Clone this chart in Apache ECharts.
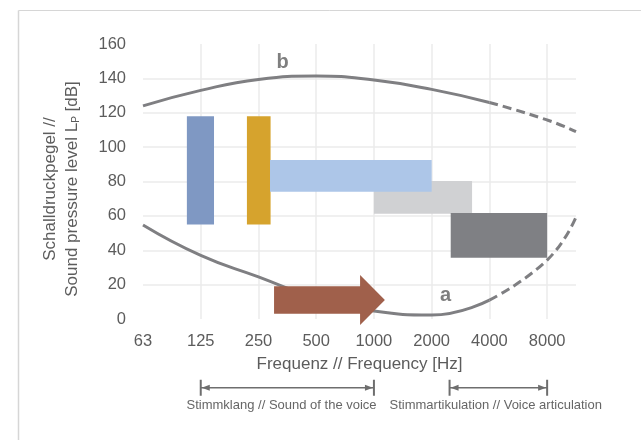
<!DOCTYPE html>
<html><head><meta charset="utf-8">
<script src="https://cdn.jsdelivr.net/npm/echarts@6/dist/echarts.min.js"></script>
<style>html,body{margin:0;padding:0;background:#fff}#c{width:641px;height:440px}</style>
</head><body><div id="c"></div>
<script>
// x positions are octave-band indices (0 = 63 Hz, 1 = 125 Hz, ... 7 = 8000 Hz)
const freqLabels = ['63', '125', '250', '500', '1000', '2000', '4000', '8000'];

// curve b (upper limit) - solid part and dashed extrapolation
const curveBSolid = [[0, 124], [1, 133], [2, 139.4], [3, 141.4], [4, 139], [5, 133.6], [6, 126]];
const curveBDashed = [[6, 126], [7, 115.8], [7.5, 109]];
// curve a (hearing threshold) - solid part and dashed extrapolation
const curveASolid = [[0, 54.7], [1, 37], [2, 24.5], [3, 12], [4, 4.6], [5, 2.3], [6, 11]];
const curveADashed = [[6, 11], [7, 34.3], [7.5, 59.2]];

// range boxes
const boxXStart = [0.76, 1.80, 4.0, 5.33, 2.2];
const boxXEnd   = [1.23, 2.21, 5.7, 7.0, 5.0];
const boxYLow   = [55, 55, 61.3, 35.7, 74];
const boxYHigh  = [118, 118, 80.3, 61.7, 92.5];

// arrow (start, neck, tip) and its body / head value ranges
const arrowX = [2.27, 3.76, 4.19];
const arrowBody = [3, 19];
const arrowHead = [-3.5, 25.6];

// curve labels
const curveLabelText = ['b', 'a'];
const curveLabelX = [2.42, 5.24];
const curveLabelY = [149.5, 13.4];

// range annotations below the axis
const spanStart = [1, 5.31];
const spanEnd = [4, 7];
const spanText = ['Stimmklang // Sound of the voice', 'Stimmartikulation // Voice articulation'];
const spanTextX = [2.4, 6.11];
const spanLineY = -40;
const spanTextY = -50.5;

// ---------- styles ----------
const FONT = "'Liberation Sans', Arial, sans-serif";
const boxColors = ['#7f98c3', '#d6a32d', '#d0d1d3', '#7f8084', '#adc6e8'];
const curveColor = '#7f7f82';
const gridColor = '#ebebeb';
const textColor = '#5c5c5c';

const chart = echarts.init(document.getElementById('c'), null, {renderer: 'canvas'});

const boxData = boxXStart.map((x, i) => [x, boxXEnd[i], boxYLow[i], boxYHigh[i]]);
const labelData = curveLabelText.map((t, i) => [curveLabelX[i], curveLabelY[i], t]);
const spanData = spanStart.map((s, i) => [s, spanEnd[i], spanTextX[i], spanText[i]]);

function lineSeries(data, dashed) {
  return {
    type: 'line', data: data, smooth: 0.5, showSymbol: false, symbol: 'none', z: 2,
    lineStyle: {color: curveColor, width: 3, type: dashed ? [9, 5] : 'solid', cap: 'butt'},
    silent: true
  };
}

const option = {
  animation: false,
  backgroundColor: '#fff',
  textStyle: {fontFamily: FONT},
  grid: {left: 143, right: 65, top: 44, bottom: 121, containLabel: false},
  xAxis: {
    type: 'value', min: 0, max: 7.5, interval: 1,
    axisLine: {show: false}, axisTick: {show: false},
    axisLabel: {
      margin: 14, color: textColor, fontSize: 16.5, fontFamily: FONT,
      formatter: v => (Number.isInteger(v) && freqLabels[v] !== undefined) ? freqLabels[v] : ''
    },
    splitLine: {show: true, showMinLine: false, showMaxLine: false, lineStyle: {color: gridColor, width: 1.5}},
    name: 'Frequenz // Frequency [Hz]', nameLocation: 'middle', nameGap: 37,
    nameTextStyle: {color: textColor, fontSize: 17, fontFamily: FONT}
  },
  yAxis: {
    type: 'value', min: 0, max: 160, interval: 20,
    axisLine: {show: false}, axisTick: {show: false},
    axisLabel: {margin: 17, color: textColor, fontSize: 16.5, fontFamily: FONT, padding: [8, 0, 0, 0]},
    splitLine: {show: true, showMinLine: false, showMaxLine: false, lineStyle: {color: gridColor, width: 1.5}}
  },
  graphic: [
    {type: 'line', silent: true, shape: {x1: 18.5, y1: 10.5, x2: 641, y2: 10.5}, style: {stroke: '#d6d6d6', lineWidth: 1}},
    {type: 'line', silent: true, shape: {x1: 18.5, y1: 10.5, x2: 18.5, y2: 440}, style: {stroke: '#d6d6d6', lineWidth: 1.5}},
    {
      type: 'text', x: 59, y: 189, rotation: Math.PI / 2, silent: true,
      style: {
        text: '{m|Schalldruckpegel //}\n{m|Sound pressure level L}{s|P}{m| [dB]}',
        align: 'center', verticalAlign: 'middle',
        rich: {
          m: {fontSize: 17, fontFamily: FONT, fill: textColor, lineHeight: 22, verticalAlign: 'bottom'},
          s: {fontSize: 10, fontFamily: FONT, fill: textColor, lineHeight: 16, verticalAlign: 'bottom'}
        }
      }
    }
  ],
  series: [
    lineSeries(curveBSolid, false),
    lineSeries(curveBDashed, true),
    lineSeries(curveASolid, false),
    lineSeries(curveADashed, true),
    {
      type: 'custom', z: 3, silent: true, clip: false,
      data: boxData,
      renderItem: (params, api) => {
        const i = params.dataIndex;
        const p0 = api.coord([api.value(0), api.value(3)]);
        const p1 = api.coord([api.value(1), api.value(2)]);
        return {type: 'rect', shape: {x: p0[0], y: p0[1], width: p1[0] - p0[0], height: p1[1] - p0[1]},
                style: {fill: boxColors[i]}};
      }
    },
    {
      type: 'custom', z: 4, silent: true, clip: false,
      data: [[arrowX[0], arrowX[1], arrowX[2], arrowBody[0], arrowBody[1], arrowHead[0], arrowHead[1]]],
      renderItem: (params, api) => {
        const x0 = api.value(0), xn = api.value(1), xt = api.value(2);
        const bl = api.value(3), bh = api.value(4), hl = api.value(5), hh = api.value(6);
        const mid = (hl + hh) / 2;
        const pts = [[x0, bh], [xn, bh], [xn, hh], [xt, mid], [xn, hl], [xn, bl], [x0, bl]].map(p => api.coord(p));
        return {type: 'polygon', shape: {points: pts}, style: {fill: '#a0604b'}};
      }
    },
    {
      type: 'custom', z: 5, silent: true, clip: false,
      data: labelData,
      renderItem: (params, api) => {
        const p = api.coord([api.value(0), api.value(1)]);
        return {type: 'text', x: p[0], y: p[1],
                style: {text: labelData[params.dataIndex][2], fontSize: 20, fontWeight: 'bold', fontFamily: FONT,
                        fill: '#7f7f7f', align: 'center', verticalAlign: 'middle'}};
      }
    },
    {
      type: 'custom', z: 5, silent: true, clip: false,
      data: spanData,
      renderItem: (params, api) => {
        const a = api.coord([api.value(0), spanLineY]);
        const b = api.coord([api.value(1), spanLineY]);
        const t = api.coord([api.value(2), spanTextY]);
        const col = '#6e6e6e';
        const y = a[1];
        const ah = 8, aw = 3;
        return {
          type: 'group',
          children: [
            {type: 'line', shape: {x1: a[0], y1: y, x2: b[0], y2: y}, style: {stroke: col, lineWidth: 1.5}},
            {type: 'line', shape: {x1: a[0], y1: y - 8, x2: a[0], y2: y + 8}, style: {stroke: col, lineWidth: 2}},
            {type: 'line', shape: {x1: b[0], y1: y - 8, x2: b[0], y2: y + 8}, style: {stroke: col, lineWidth: 2}},
            {type: 'polygon', shape: {points: [[a[0] + 1, y], [a[0] + 1 + ah, y - aw], [a[0] + 1 + ah, y + aw]]}, style: {fill: col}},
            {type: 'polygon', shape: {points: [[b[0] - 1, y], [b[0] - 1 - ah, y - aw], [b[0] - 1 - ah, y + aw]]}, style: {fill: col}},
            {type: 'text', x: t[0], y: t[1],
             style: {text: spanData[params.dataIndex][3], fontSize: 13, fontFamily: FONT, fill: '#666666',
                     align: 'center', verticalAlign: 'middle'}}
          ]
        };
      }
    }
  ]
};
chart.setOption(option);
</script></body></html>
